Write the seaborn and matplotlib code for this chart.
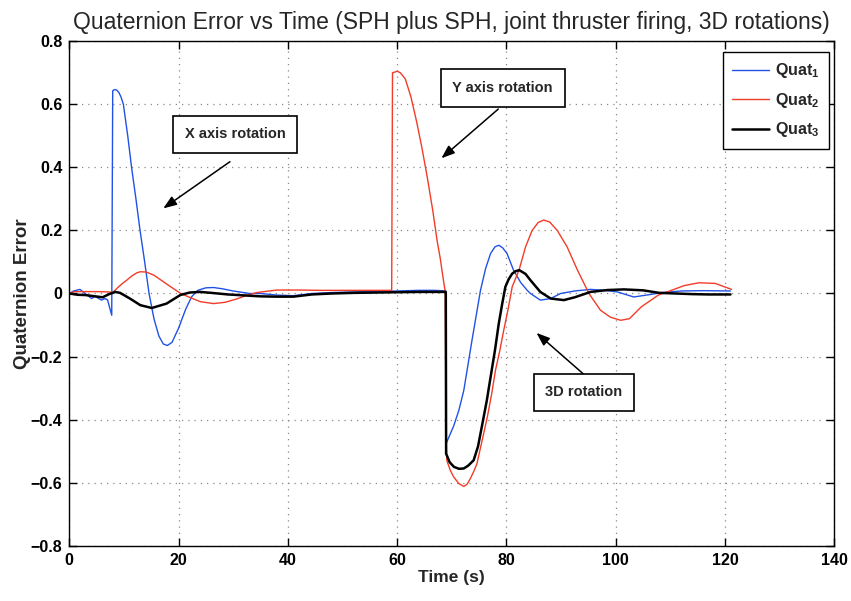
import numpy as np
import pandas as pd
import matplotlib
matplotlib.use("Agg")
import matplotlib.pyplot as plt
import seaborn as sns

# ---------------- data ----------------
t_q1 = [0, 0.8, 1.96, 2.9, 4.1, 4.7, 5.9, 6.5, 7.0, 7.77, 7.95, 8.3, 8.7, 9.1, 9.5, 9.9, 10.7, 11.4, 12.2,
        12.95, 13.75, 14.6, 15.5, 16.4, 17.2, 17.95, 18.8, 20.0, 21.3, 22.4, 23.5, 25.0, 26.4,
        28.0, 30.0, 33.0, 35.0, 38.0, 41.0, 44.4, 48.0, 52.0, 56.0, 60.0, 64.0, 67.0, 68.9,
        68.96, 70.35, 71.3, 72.2, 73.7, 75.25, 76.2, 77.1, 77.9, 78.6, 79.3, 80.1, 81.3, 82.6, 83.8, 84.4, 86.2, 88.1,
        89.9, 92.5, 95.4, 98.0, 100.3, 103.3, 106.4, 108.5, 112.0, 116.0, 121.0]
v_q1 = [0, 0.008, 0.013, 0.0, -0.016, -0.009, -0.021, -0.016, -0.02, -0.069, 0.643, 0.647, 0.645,
        0.637, 0.622, 0.60, 0.50, 0.40, 0.30, 0.20, 0.106, 0.0, -0.08, -0.135, -0.16, -0.165, -0.155,
        -0.11, -0.05, -0.01, 0.01, 0.018, 0.019, 0.015, 0.008, 0.0, 0.0, -0.005, -0.007, 0.0,
        0.003, 0.005, 0.007, 0.008, 0.01, 0.01, 0.008,
        -0.476, -0.42, -0.37, -0.307, -0.148, 0.01, 0.08, 0.127, 0.148, 0.153, 0.145, 0.127,
        0.074, 0.035, 0.01, 0.0,
        -0.021, -0.016, 0.0, 0.008, 0.013, 0.01, 0.005, -0.011, -0.003, 0.003, 0.008, 0.009, 0.008]

t_q2 = [0, 1, 3, 5, 7.3, 7.9, 8.7, 9.6, 10.5, 11.4, 12.3, 13.0, 14.1, 15.5, 17.0, 18.5, 20.4,
        22.0, 24.0, 26.4, 28.5, 30.5, 32.5, 34.3, 38.0, 42.0, 46.0, 50.0, 55.0, 59.0,
        59.15, 60.0, 60.6, 61.5, 62.5, 63.5, 64.5, 65.5, 66.5, 67.3, 67.9, 68.4, 68.8,
        68.96, 69.1, 69.7, 70.35, 71.3, 72.2, 72.8, 73.4, 74.0, 74.6, 75.5, 76.5, 77.3, 78.0, 78.8,
        79.5, 80.3, 81.05, 82.3, 83.5, 84.7, 85.8, 86.8, 87.9, 89.3, 91.1, 93.0, 95.1, 97.2,
        99.0, 100.9, 102.5, 104.7, 107.8, 110.2, 112.5, 115.2, 118.2, 121.2]
v_q2 = [0.0, 0.006, 0.006, 0.006, 0.005, 0.002, 0.016, 0.03, 0.042, 0.055, 0.065, 0.069,
        0.068, 0.058, 0.04, 0.022, 0.0, -0.012, -0.026, -0.032, -0.028, -0.018, -0.006, 0.003,
        0.011, 0.011, 0.01, 0.01, 0.01, 0.01,
        0.70, 0.705, 0.70, 0.68, 0.625, 0.55, 0.465, 0.37, 0.265, 0.169, 0.11, 0.05, 0.005,
        -0.47, -0.53, -0.56, -0.582, -0.603, -0.612, -0.605, -0.587, -0.565, -0.54, -0.47,
        -0.392, -0.318, -0.243, -0.18, -0.117, -0.05, 0.021, 0.074, 0.148, 0.20, 0.225, 0.233,
        0.227, 0.2, 0.148, 0.074, 0.0, -0.053, -0.075, -0.085, -0.08, -0.042, -0.005, 0.01,
        0.025, 0.034, 0.032, 0.013]

t_q3 = [0, 1.5, 3.0, 4.3, 6.1, 7.3, 8.4, 9.3, 11.1, 13.0, 15.1, 17.8, 20.3, 22.0, 23.9, 26.0,
        29.0, 32.0, 34.9, 38.0, 41.0, 44.4, 48.0, 52.0, 56.0, 60.0, 64.0, 68.9,
        68.96, 69.6, 70.4, 71.3, 72.2, 73.0, 74.0, 74.8, 75.6, 76.4, 77.1, 77.9, 78.6, 79.2, 79.8,
        80.4, 81.05, 81.7, 82.35, 83.5, 84.4, 86.2, 88.1, 90.5, 92.5, 95.4, 98.5, 101.5, 105.0,
        108.0, 111.0, 114.0, 117.0, 121.0]
v_q3 = [0.0, -0.004, -0.005, -0.008, -0.012, -0.002, 0.005, 0.002, -0.016, -0.037, -0.046,
        -0.032, -0.005, 0.003, 0.005, 0.002, -0.003, -0.006, -0.009, -0.01, -0.01, -0.003,
        0.0, 0.002, 0.003, 0.004, 0.005, 0.005,
        -0.508, -0.535, -0.55, -0.556, -0.555, -0.546, -0.529, -0.485, -0.413, -0.34, -0.265,
        -0.18, -0.095, -0.035, 0.021, 0.045, 0.063, 0.071, 0.074,
        0.062, 0.042, 0.005, -0.016, -0.021, -0.012, 0.005, 0.011, 0.013, 0.01, 0.002,
        0.0, -0.002, -0.003, -0.003]

series_names = ["Quat$_1$", "Quat$_2$", "Quat$_3$"]
series_colors = ["#2052e6", "#f23c28", "#000000"]
series_widths = [1.0, 1.0, 1.8]

x_ticks = [0, 20, 40, 60, 80, 100, 120, 140]
y_ticks = [-0.8, -0.6, -0.4, -0.2, 0, 0.2, 0.4, 0.6, 0.8]
y_tick_labels = ["\u22120.8", "\u22120.6", "\u22120.4", "\u22120.2", "0", "0.2", "0.4", "0.6", "0.8"]

annotations = [
    ("X axis rotation", (30.4, 0.505), (29.4, 0.418), (17.2, 0.27)),
    ("Y axis rotation", (79.3, 0.652), (78.5, 0.585), (68.1, 0.429)),
    ("3D rotation", (94.2, -0.313), (94.0, -0.254), (85.5, -0.125)),
]

# ---------------- figure ----------------
sns.set_style("white")
plt.rcParams["font.family"] = ["Liberation Sans", "DejaVu Sans"]
plt.rcParams["mathtext.default"] = "regular"

fig = plt.figure(figsize=(8.51, 6.01), dpi=100)
ax = fig.add_axes([0.0814, 0.092, 0.8990, 0.8393])

frames = []
for name, t, v in zip(series_names, [t_q1, t_q2, t_q3], [v_q1, v_q2, v_q3]):
    frames.append(pd.DataFrame({"t": t, "v": v, "series": name}))
df = pd.concat(frames, ignore_index=True)

for name, color, lw in zip(series_names, series_colors, series_widths):
    sub = df[df["series"] == name]
    sns.lineplot(data=sub, x="t", y="v", ax=ax, color=color, linewidth=lw,
                 label=name, sort=False, estimator=None)

ax.set_xlim(0, 140)
ax.set_ylim(-0.8, 0.8)
ax.set_xticks(x_ticks)
ax.set_xticklabels([str(x) for x in x_ticks], fontsize=11.5, fontweight="bold")
ax.set_yticks(y_ticks)
ax.set_yticklabels(y_tick_labels, fontsize=11.5, fontweight="bold")
ax.tick_params(direction="in", length=6, width=1, top=True, right=True,
               bottom=True, left=True, pad=5, colors="black")
for sp in ax.spines.values():
    sp.set_visible(True)
    sp.set_color("black")
    sp.set_linewidth(1.0)
ax.grid(True, color="#8a8a8a", linestyle=(0, (1, 4)), linewidth=0.9)
ax.set_axisbelow(True)

ax.set_xlabel("Time (s)", fontsize=12.5, fontweight="bold", labelpad=2)
ax.set_ylabel("Quaternion Error", fontsize=13.5, fontweight="bold", labelpad=0)
ax.set_title("Quaternion Error vs Time (SPH plus SPH, joint thruster firing, 3D rotations)",
             fontsize=16.5, pad=9)

for text, center, tail, head in annotations:
    ax.text(center[0], center[1], text, ha="center", va="center", fontsize=10.5,
            fontweight="bold",
            bbox=dict(boxstyle="square,pad=0.8", facecolor="white", edgecolor="black",
                      linewidth=1.2))
    ax.annotate("", xy=head, xytext=tail,
                arrowprops=dict(arrowstyle="-|>,head_length=0.8,head_width=0.3",
                                color="black", linewidth=1.1, shrinkA=0, shrinkB=0))

leg = ax.legend(loc="upper right", bbox_to_anchor=(0.9935, 0.979), borderaxespad=0,
                frameon=True, fancybox=False, edgecolor="black", framealpha=1,
                prop={"size": 11.5, "weight": "bold"}, handlelength=2.3,
                labelspacing=0.65, borderpad=0.6, handletextpad=0.4)
leg.get_frame().set_linewidth(1.0)

fig.savefig("out.png", dpi=100)
